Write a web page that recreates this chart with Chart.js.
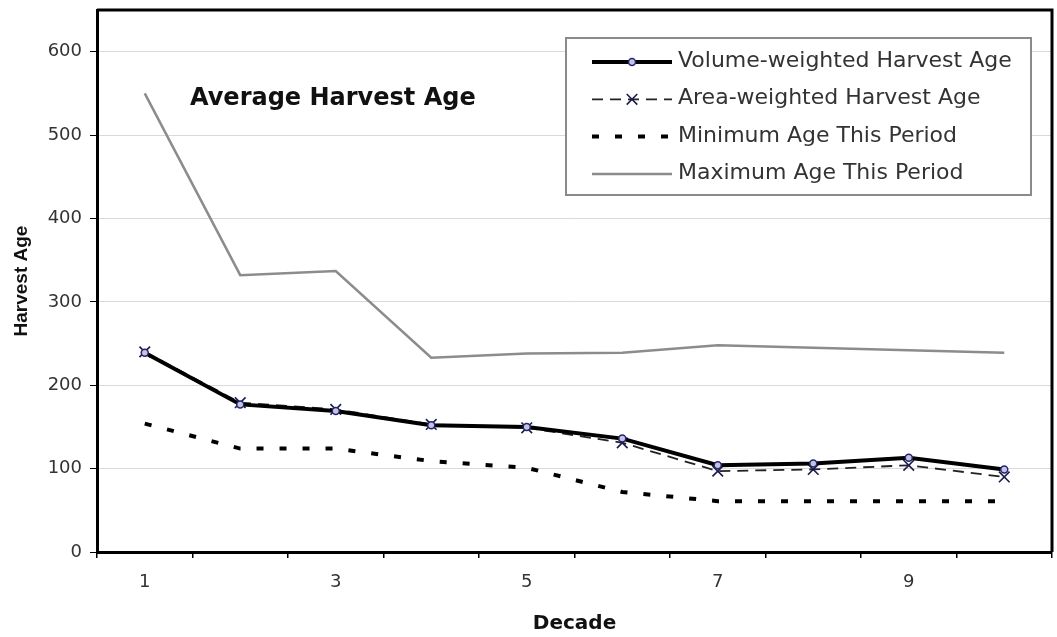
<!DOCTYPE html>
<html>
<head>
<meta charset="utf-8">
<script src="https://cdn.jsdelivr.net/npm/chart.js@4.4.0/dist/chart.umd.min.js"></script>
<style>
  html, body { margin: 0; padding: 0; background: #fff; }
  #wrap { width: 1057px; height: 637px; }
</style>
</head>
<body>
<div id="wrap"><canvas id="harvestChart" width="1057" height="637"></canvas></div>
<script>
// Data
const decades = ["1", "2", "3", "4", "5", "6", "7", "8", "9", "10"];
const xTickShown = ["1", "3", "5", "7", "9"];
const volumeAge = [239, 177, 169, 152, 150, 136, 104, 106, 113, 99];
const areaAge = [240, 179, 171, 153, 149, 131, 97, 99, 104, 90];
const minAge = [154, 124, 124, 109, 101, 72, 61, 61, 61, 61];
const maxAge = [550, 332, 337, 233, 238, 239, 248, 245, 242, 239];
const seriesNames = [
  "Volume-weighted Harvest Age",
  "Area-weighted Harvest Age",
  "Minimum Age This Period",
  "Maximum Age This Period"
];
const chartTitle = "Average Harvest Age";

/* ---------------- plugins ---------------- */
const frameAndNotes = {
  id: "frameAndNotes",
  beforeDatasetsDraw(chart) {
    const { ctx, chartArea: a } = chart;
    ctx.save();
    // top + right frame
    ctx.strokeStyle = "#000";
    ctx.lineWidth = 3;
    ctx.beginPath();
    ctx.moveTo(a.left, a.top);
    ctx.lineTo(a.right, a.top);
    ctx.lineTo(a.right, a.bottom);
    ctx.stroke();
    // title inside the plot
    ctx.font = 'bold 24px "DejaVu Sans"';
    ctx.fillStyle = "#111";
    ctx.textBaseline = "alphabetic";
    ctx.fillText(chartTitle, 190, 105);
    ctx.restore();
  },
  afterDraw(chart) {
    const ctx = chart.ctx;
    ctx.save();
    // legend box
    ctx.fillStyle = "#fff";
    ctx.fillRect(566, 38, 465, 157);
    ctx.strokeStyle = "#8a8a8a";
    ctx.lineWidth = 2;
    ctx.strokeRect(566, 38, 465, 157);

    chart.data.datasets.forEach((ds, i) => {
      const y = 62 + i * 37.3;
      ctx.save();
      ctx.strokeStyle = ds.borderColor;
      ctx.lineWidth = ds.borderWidth;
      ctx.setLineDash(ds.borderDash || []);
      ctx.beginPath();
      ctx.moveTo(592, y);
      ctx.lineTo(672, y);
      ctx.stroke();
      ctx.setLineDash([]);
      if (ds.pointRadius > 0 && Chart.helpers && Chart.helpers.drawPoint) {
        ctx.strokeStyle = ds.pointBorderColor;
        ctx.fillStyle = ds.pointBackgroundColor || ds.pointBorderColor;
        ctx.lineWidth = ds.pointBorderWidth;
        Chart.helpers.drawPoint(ctx, {
          pointStyle: ds.pointStyle,
          radius: ds.pointRadius,
          borderWidth: ds.pointBorderWidth,
          rotation: 0
        }, 632, y);
      }
      ctx.restore();
      ctx.font = '22px "DejaVu Sans"';
      ctx.fillStyle = "#333";
      ctx.textBaseline = "alphabetic";
      ctx.fillText(ds.label, 678, y + 5);
    });
    ctx.restore();
  }
};

/* ---------------- chart ---------------- */
const ctx = document.getElementById("harvestChart").getContext("2d");

new Chart(ctx, {
  type: "line",
  data: {
    labels: decades,
    datasets: [
      {
        label: seriesNames[0], data: volumeAge,
        borderColor: "#000", borderWidth: 4,
        pointStyle: "circle", pointRadius: 3.5,
        pointBorderColor: "#25256e", pointBackgroundColor: "#c4c4e2", pointBorderWidth: 1.5
      },
      {
        label: seriesNames[1], data: areaAge,
        borderColor: "#222", borderWidth: 1.8, borderDash: [11, 7],
        pointStyle: "crossRot", pointRadius: 7.5,
        pointBorderColor: "#1c1c4c", pointBorderWidth: 1.6
      },
      {
        label: seriesNames[2], data: minAge,
        borderColor: "#000", borderWidth: 4, borderDash: [7, 16],
        pointRadius: 0
      },
      {
        label: seriesNames[3], data: maxAge,
        borderColor: "#8c8c8c", borderWidth: 2.5,
        pointRadius: 0
      }
    ]
  },
  options: {
    responsive: false,
    animation: false,
    layout: { autoPadding: false, padding: { left: 0, right: 5, top: 10, bottom: 0 } },
    elements: { line: { tension: 0, fill: false } },
    plugins: { legend: { display: false }, tooltip: { enabled: false } },
    scales: {
      x: {
        type: "category",
        offset: true,
        grid: { offset: true, drawOnChartArea: false, tickColor: "#000", tickLength: 6, lineWidth: 1.5 },
        border: { color: "#000", width: 3 },
        ticks: {
          autoSkip: false, maxRotation: 0, padding: 14,
          font: { family: "DejaVu Sans", size: 18 }, color: "#333",
          callback(v) {
            const l = this.getLabelForValue(v);
            return xTickShown.includes(l) ? l : "";
          }
        },
        title: {
          display: true, text: "Decade", color: "#111",
          font: { family: "DejaVu Sans", size: 20, weight: "bold" },
          padding: { top: 0, bottom: 1 }
        },
        afterFit: s => { s.height = 85; s.paddingLeft = 0; s.paddingRight = 0; }
      },
      y: {
        min: 0, max: 650,
        afterBuildTicks: s => { s.ticks = s.ticks.filter(t => t.value <= 600); },
        ticks: { stepSize: 100, padding: 8, font: { family: "DejaVu Sans", size: 18 }, color: "#333" },
        grid: { color: "#d9d9d9", lineWidth: 1, tickColor: "#000", tickLength: 7 },
        border: { color: "#000", width: 3 },
        title: {
          display: true, text: "Harvest Age", color: "#111",
          font: { family: "Liberation Sans", size: 19, weight: "bold" },
          padding: { top: 10, bottom: 0 }
        },
        afterFit: s => { s.width = 97; s.paddingTop = 0; s.paddingBottom = 0; }
      }
    }
  },
  plugins: [frameAndNotes]
});
</script>
</body>
</html>
